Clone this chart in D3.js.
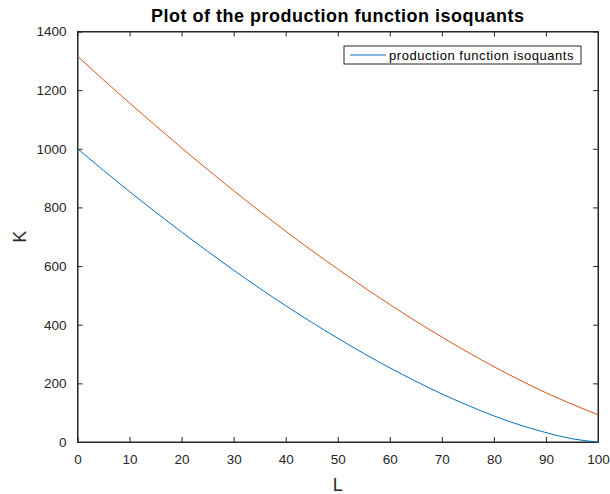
<!DOCTYPE html>
<html>
<head>
	<title>Production function isoquants</title>
	<style type="text/css">

body {
	margin:0;
	background:#fff;
}

text {
	font-family: "Liberation Sans", Arial, sans-serif;
	fill:#262626;
}

.title {
	font-weight:bold;
	font-size:18px;
	letter-spacing:0.5px;
	fill:#000;
}

.axis text {
	font-size:13.5px;
}

.axis path, .axis line, .frame {
	stroke:#262626;
	fill:none;
}

.legend rect {
	stroke:#262626;
	fill:#fff;
}

	</style>
</head>
<body>

<div id="chart"></div>

<script type="text/javascript" src="https://cdn.jsdelivr.net/npm/d3@7/dist/d3.min.js"></script>
<script type="text/javascript">

// L values and the two isoquants
var L = [0,5,10,15,20,25,30,35,40,45,50,55,60,65,70,75,80,85,90,95,100];
var K_low = [1000,926,854,784,716,650,586,524,465,408,354,302,253,207,164,125,89,58,32,11,0];
var K_high = [1316,1235,1156,1079,1003,929,857,787,719,653,590,528,469,412,358,306,257,211,168,129,93];

var xTicks = [0,10,20,30,40,50,60,70,80,90,100];
var yTicks = [0,200,400,600,800,1000,1200,1400];

var series = [
	{name:"production function isoquants", color:"#0072bd", values:K_low},
	{name:"", color:"#d95319", values:K_high}
];

var margin = {top:31.5,left:77.5,right:12,bottom:52},
	width = 610 - margin.left - margin.right,
	height = 494 - margin.top - margin.bottom;

var svg = d3.select("#chart").append("svg")
	.attr("width",610)
	.attr("height",494);

var g = svg.append("g")
	.attr("transform","translate("+margin.left+","+margin.top+")");

var x = d3.scaleLinear().domain([0,100]).range([0,width]);
var y = d3.scaleLinear().domain([0,1400]).range([height,0]);

// axes with ticks pointing inward, box on all four sides
g.append("g")
	.attr("class","axis")
	.attr("transform","translate(0,"+height+")")
	.call(d3.axisBottom(x).tickValues(xTicks).tickSizeInner(-5).tickSizeOuter(0).tickPadding(12).tickFormat(d3.format("d")));

g.append("g")
	.attr("class","axis")
	.call(d3.axisLeft(y).tickValues(yTicks).tickSizeInner(-5).tickSizeOuter(0).tickPadding(11).tickFormat(d3.format("d")));

g.append("g")
	.attr("class","axis")
	.call(d3.axisTop(x).tickValues(xTicks).tickSizeInner(-5).tickSizeOuter(0).tickFormat(""));

g.append("g")
	.attr("class","axis")
	.attr("transform","translate("+width+",0)")
	.call(d3.axisRight(y).tickValues(yTicks).tickSizeInner(-5).tickSizeOuter(0).tickFormat(""));

g.append("rect")
	.attr("class","frame")
	.attr("width",width)
	.attr("height",height);

var line = d3.line()
	.x(function(d,i){ return x(L[i]); })
	.y(function(d){ return y(d); })
	.curve(d3.curveMonotoneX);

g.selectAll(".isoquant")
	.data(series)
	.enter().append("path")
	.attr("class","isoquant")
	.attr("d",function(d){ return line(d.values); })
	.attr("stroke",function(d){ return d.color; })
	.attr("stroke-width",1)
	.attr("fill","none");

// title and labels
svg.append("text")
	.attr("class","title")
	.attr("x",margin.left+width/2)
	.attr("y",22)
	.attr("text-anchor","middle")
	.text("Plot of the production function isoquants");

svg.append("text")
	.attr("x",margin.left+width/2)
	.attr("y",490.5)
	.attr("text-anchor","middle")
	.style("font-size","18px")
	.text("L");

svg.append("text")
	.attr("transform","translate(26,"+(margin.top+height/2)+") rotate(-90)")
	.attr("text-anchor","middle")
	.style("font-size","18px")
	.text("K");

// legend (first series only)
var legend = g.append("g")
	.attr("class","legend")
	.attr("transform","translate("+(width-254)+",14.5)");

legend.append("rect")
	.attr("width",237)
	.attr("height",18);

legend.append("line")
	.attr("x1",6)
	.attr("x2",42)
	.attr("y1",9)
	.attr("y2",9)
	.attr("stroke",series[0].color);

legend.append("text")
	.attr("x",45)
	.attr("y",13.5)
	.style("font-size","13px")
	.style("letter-spacing","0.55px")
	.style("fill","#000")
	.text(series[0].name);

</script>
</body>
</html>
